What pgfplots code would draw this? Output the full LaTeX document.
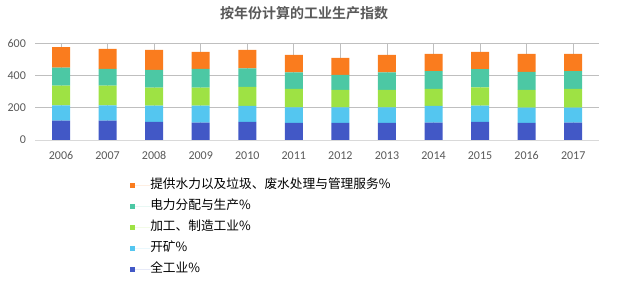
\documentclass[border=0pt]{standalone}
\usepackage{pgfplots}
\pgfplotsset{compat=1.18}
\usepackage{fontspec}
\setmainfont{Carlito}
\newfontfamily\cjk{Noto Sans CJK SC}[BoldFont={Noto Sans CJK SC Bold}]
\definecolor{cBlue}{RGB}{66,88,198}
\definecolor{cLBlue}{RGB}{84,198,240}
\definecolor{cGreen}{RGB}{158,226,68}
\definecolor{cTeal}{RGB}{76,200,164}
\definecolor{cOrange}{RGB}{250,124,30}
\definecolor{txt}{RGB}{89,89,89}
\definecolor{grid}{RGB}{217,217,217}
\begin{document}
\begin{tikzpicture}
\useasboundingbox (0,0) rectangle (622pt,288pt);
\begin{axis}[
  at={(35.4pt,148pt)}, anchor=south west,
  scale only axis, width=563.4pt, height=96.7pt,
  ybar stacked, bar width=18pt,
  xmin=-0.55, xmax=11.55, ymin=0, ymax=600,
  xtick=data,
  xticklabels={2006,2007,2008,2009,2010,2011,2012,2013,2014,2015,2016,2017},
  ytick={0,200,400,600},
  ymajorgrids, grid style={grid, line width=0.8pt},
  axis line style={draw=none},
  axis x line*=bottom, axis y line*=left,
  x axis line style={draw=grid, line width=0.8pt},
  major tick length=0pt,
  tick label style={font=\fontsize{12}{12}\selectfont, text=txt},
  /pgf/number format/assume math mode=true,
  yticklabel style={xshift=-6pt},
  xticklabel style={yshift=-8pt},
  title={\cjk\bfseries\fontsize{14}{14}\selectfont 按年份计算的工业生产指数},
  title style={at={(axis description cs:0.477,1.25)}, anchor=center, text=txt},
  legend style={at={(axis description cs:0.168,-0.40)}, anchor=north west,
    draw=none, fill=none, inner sep=0pt,
    nodes={inner sep=0pt, text height=10pt, text depth=3pt, text=black,
      font=\cjk\fontsize{12.7}{12.7}\selectfont},
    row sep=8pt, cells={anchor=west}},
  legend cell align=left,
  reverse legend,
  legend image code/.code={\fill[#1,draw=none] (0pt,-2.5pt) rectangle (5pt,2.5pt); \path (0pt,0pt) -- (20pt,0pt);},
  every axis plot/.append style={draw=none},
  clip=false,
]
\addplot[fill=cBlue] coordinates {(0,120)(1,120)(2,112)(3,108)(4,112)(5,106)(6,106)(7,106)(8,108)(9,112)(10,106)(11,108)};
\addplot[fill=cLBlue] coordinates {(0,95)(1,95)(2,101)(3,105)(4,99)(5,97)(6,97)(7,97)(8,103)(9,101)(10,95)(11,93)};
\addplot[fill=cGreen] coordinates {(0,122)(1,122)(2,112)(3,112)(4,118)(5,114)(6,108)(7,108)(8,106)(9,114)(10,110)(11,116)};
\addplot[fill=cTeal] coordinates {(0,112)(1,104)(2,110)(3,116)(4,116)(5,103)(6,93)(7,109)(8,110)(9,112)(10,111)(11,110)};
\addplot[fill=cOrange] coordinates {(0,127)(1,124)(2,124)(3,106)(4,114)(5,108)(6,105)(7,108)(8,107)(9,108)(10,112)(11,107)};
\legend{全工业\%,开矿\%,加工、制造工业\%,电力分配与生产\%,提供水力以及垃圾、废水处理与管理服务\%}
\end{axis}
\end{tikzpicture}
\end{document}
